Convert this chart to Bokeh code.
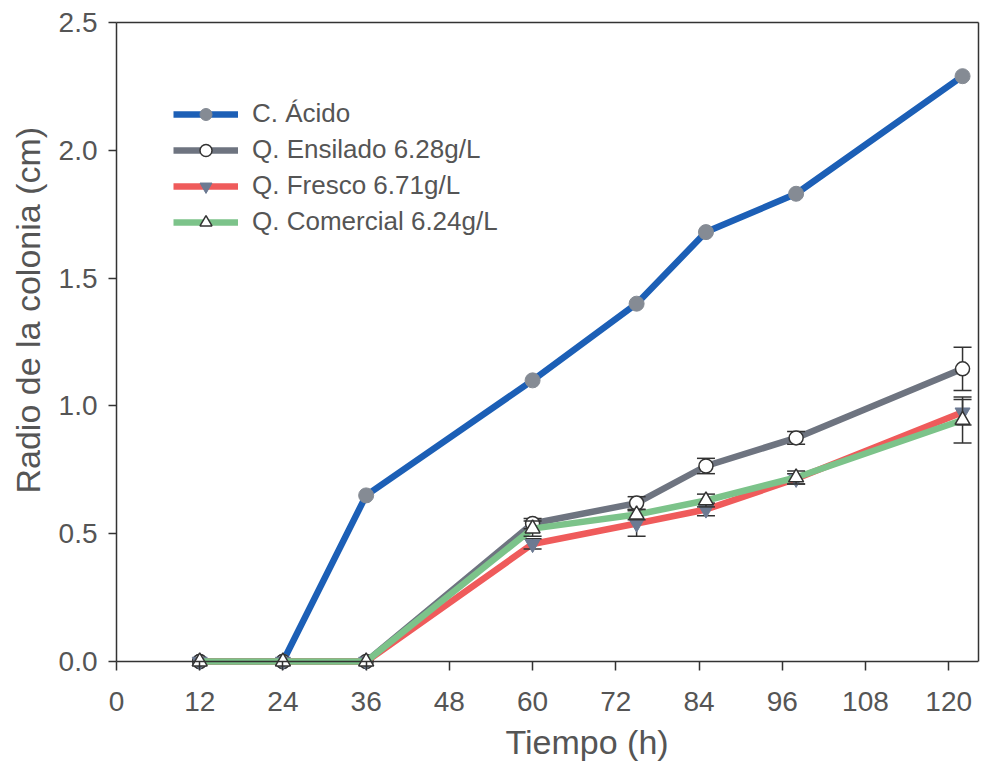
from bokeh.plotting import figure
from bokeh.models import (Range1d, FixedTicker, LinearAxis, Legend, LegendItem,
                          Title, NumeralTickFormatter, Span)
from bokeh.embed import file_html
from bokeh.resources import INLINE

# Colony radius (cm) over time (h) for each treatment
tiempo = [12, 24, 36, 60, 75, 85, 98, 122]

acido = [0.0, 0.0, 0.65, 1.10, 1.40, 1.68, 1.83, 2.29]

ensilado = [0.0, 0.0, 0.0, 0.54, 0.62, 0.765, 0.875, 1.145]
ensilado_err = [0.0, 0.0, 0.0, 0.02, 0.025, 0.03, 0.025, 0.085]

fresco = [0.0, 0.0, 0.0, 0.46, 0.54, 0.595, 0.715, 0.975]
fresco_err = [0.0, 0.0, 0.0, 0.02, 0.05, 0.025, 0.02, 0.05]

comercial = [0.0, 0.0, 0.0, 0.52, 0.575, 0.63, 0.72, 0.945]
comercial_err = [0.0, 0.0, 0.0, 0.03, 0.02, 0.025, 0.025, 0.09]

x_ticks = [0, 12, 24, 36, 48, 60, 72, 84, 96, 108, 120]
y_ticks = [0.0, 0.5, 1.0, 1.5, 2.0, 2.5]

FONT = "Liberation Sans"
TEXT = "#555555"
AXIS = "#333333"

# a little room below y = 0 so markers on the baseline stay whole
p = figure(width=983, height=771,
           x_range=Range1d(0, 124.3), y_range=Range1d(-0.035, 2.5),
           output_backend="svg", toolbar_location=None,
           min_border_left=116, min_border_right=5,
           min_border_top=22, min_border_bottom=101)
p.xgrid.visible = False
p.ygrid.visible = False
p.outline_line_color = None
p.background_fill_color = "white"
p.border_fill_color = "white"

# x axis: labels and ticks at the frame bottom, ticks reaching up to y = 0
xa = p.xaxis[0]
xa.ticker = FixedTicker(ticks=x_ticks)
xa.axis_line_color = None
xa.major_tick_in = 9
xa.major_tick_out = 0
xa.major_label_standoff = 21

# y axis
ya = p.yaxis[0]
ya.ticker = FixedTicker(ticks=y_ticks)
ya.formatter = NumeralTickFormatter(format="0.0")
ya.bounds = (0, 2.5)
ya.axis_line_color = AXIS
ya.axis_line_width = 1.5
ya.major_tick_in = 0
ya.major_tick_out = 8
ya.major_label_standoff = 11

for ax in (xa, ya):
    ax.major_tick_line_color = AXIS
    ax.major_tick_line_width = 1.5
    ax.minor_tick_line_color = None
    ax.major_label_text_font = FONT
    ax.major_label_text_font_size = "28px"
    ax.major_label_text_color = TEXT

# baseline at y = 0
p.add_layout(Span(location=0, dimension="width", line_color=AXIS, line_width=1.5))

# top and right frame lines
top = LinearAxis(ticker=FixedTicker(ticks=[]), axis_line_color=AXIS,
                 axis_line_width=1.5, major_tick_line_color=None,
                 minor_tick_line_color=None, major_label_standoff=0)
right = LinearAxis(ticker=FixedTicker(ticks=[]), axis_line_color=AXIS,
                   axis_line_width=1.5, major_tick_line_color=None,
                   minor_tick_line_color=None, major_label_standoff=0,
                   bounds=(0, 2.5))
p.add_layout(top, "above")
p.add_layout(right, "right")


def error_bars(t, y, err, color):
    pts = [(ti, yi, ei) for ti, yi, ei in zip(t, y, err) if ei > 0]
    xs = [a for a, _, _ in pts]
    lo = [b - c for _, b, c in pts]
    hi = [b + c for _, b, c in pts]
    p.segment(x0=xs, y0=lo, x1=xs, y1=hi, line_color=color, line_width=1.5)
    p.scatter(xs, lo, marker="dash", size=18, line_color=color, line_width=1.5)
    p.scatter(xs, hi, marker="dash", size=18, line_color=color, line_width=1.5)


series = [
    ("C. Ácido", acido, None, "#1c5fb6",
     dict(marker="circle", size=15, fill_color="#858b94", line_color="#858b94")),
    ("Q. Ensilado 6.28g/L", ensilado, ensilado_err, "#6e7480",
     dict(marker="circle", size=14, fill_color="white", line_color="#333333", line_width=1.5)),
    ("Q. Fresco 6.71g/L", fresco, fresco_err, "#ef5b5b",
     dict(marker="inverted_triangle", size=15, fill_color="#6c7a92", line_color="#6c7a92")),
    ("Q. Comercial 6.24g/L", comercial, comercial_err, "#7cc38a",
     dict(marker="triangle", size=15, fill_color="white", line_color="#333333", line_width=1.5)),
]

items = []
for label, vals, err, color, mk in series:
    lr = p.line(tiempo, vals, line_color=color, line_width=6.5, line_join="round")
    if err is not None:
        error_bars(tiempo, vals, err, "#333333")
    sr = p.scatter(tiempo, vals, **mk)
    items.append(LegendItem(label=label, renderers=[lr, sr]))

legend = Legend(items=items, location=(57, 433), padding=0, margin=0,
                spacing=5, glyph_width=65, glyph_height=30, label_height=30,
                label_standoff=14, label_text_font=FONT,
                label_text_font_size="26px", label_text_color=TEXT,
                border_line_color=None, background_fill_alpha=0)
p.add_layout(legend)

p.add_layout(Title(text="Tiempo (h)", align="left", offset=389,
                   vertical_align="top", standoff=18,
                   text_font=FONT, text_font_size="34px",
                   text_font_style="normal", text_color=TEXT), "below")
p.add_layout(Title(text="Radio de la colonia (cm)", align="left", offset=177,
                   vertical_align="top", standoff=14,
                   text_font=FONT, text_font_size="34px",
                   text_font_style="normal", text_color=TEXT), "left")

open("out.html", "w").write(file_html(p, INLINE))
